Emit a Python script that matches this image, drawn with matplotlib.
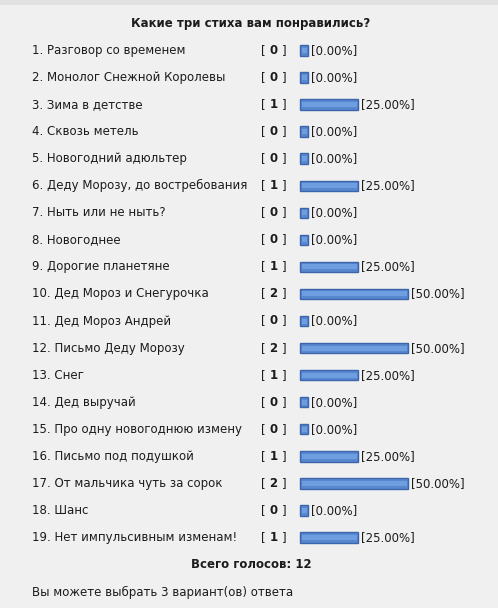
import matplotlib
matplotlib.use("Agg")
import matplotlib.pyplot as plt

title = "Какие три стиха вам понравились?"
options = [
    "Разговор со временем",
    "Монолог Снежной Королевы",
    "Зима в детстве",
    "Сквозь метель",
    "Новогодний адюльтер",
    "Деду Морозу, до востребования",
    "Ныть или не ныть?",
    "Новогоднее",
    "Дорогие планетяне",
    "Дед Мороз и Снегурочка",
    "Дед Мороз Андрей",
    "Письмо Деду Морозу",
    "Снег",
    "Дед выручай",
    "Про одну новогоднюю измену",
    "Письмо под подушкой",
    "От мальчика чуть за сорок",
    "Шанс",
    "Нет импульсивным изменам!",
]
votes = [0, 0, 1, 0, 0, 1, 0, 0, 1, 2, 0, 2, 1, 0, 0, 1, 2, 0, 1]
percents = [0, 0, 25, 0, 0, 25, 0, 0, 25, 50, 0, 50, 25, 0, 0, 25, 50, 0, 25]
total_label = "Всего голосов: 12"
footer = "Вы можете выбрать 3 вариант(ов) ответа"

W, H = 498, 608
fig = plt.figure(figsize=(W / 100, H / 100), dpi=100)
fig.patch.set_facecolor("#f0f0f0")
ax = fig.add_axes([0, 0, 1, 1])
ax.set_xlim(0, W)
ax.set_ylim(H, 0)
ax.axis("off")
ax.set_facecolor("#f0f0f0")

# top grey band
ax.axhspan(0, 5, color="#e1e1e1", lw=0)

fs = 8.5
txtc = "#1c1c1c"
ax.text(251, 24, title, ha="center", va="center", fontsize=fs, fontweight="bold", color=txtc)

row0, step = 50.5, 27.05
ys = [row0 + i * step for i in range(len(options))]
px_per_pct = 2.0
cap = 8
widths = [p * px_per_pct + cap for p in percents]

for i, (name, v, p, y, w) in enumerate(zip(options, votes, percents, ys, widths)):
    ax.text(32, y, f"{i + 1}. {name}", ha="left", va="center", fontsize=fs, color=txtc)
    ax.text(261, y, "[", ha="left", va="center", fontsize=fs, color=txtc)
    ax.text(273.5, y, f"{v}", ha="center", va="center", fontsize=fs, fontweight="bold", color=txtc)
    ax.text(282, y, "]", ha="left", va="center", fontsize=fs, color=txtc)
    ax.text(300 + w + 3.5, y, f"[{p:.2f}%]", ha="left", va="center", fontsize=fs, color=txtc)

ax.barh(ys, widths, left=300, height=10.5, color="#5787cf", edgecolor="#3d65ad", linewidth=1.0)
ax.barh(ys, [w - 3 for w in widths], left=301.5, height=5, color="#6e9de0", linewidth=0)

ax.text(251, 564, total_label, ha="center", va="center", fontsize=fs, fontweight="bold", color=txtc)
ax.text(32, 592, footer, ha="left", va="center", fontsize=fs, color=txtc)

fig.savefig("out.png", dpi=100, facecolor=fig.get_facecolor())
